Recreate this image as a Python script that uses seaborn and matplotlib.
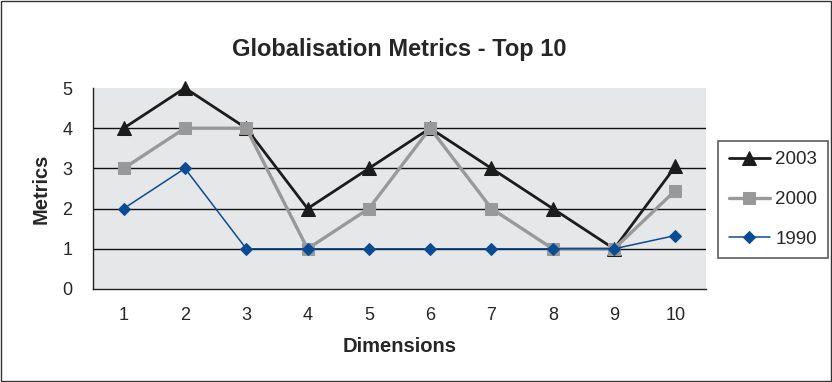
import pandas as pd
import matplotlib.pyplot as plt
import seaborn as sns
from matplotlib.patches import Rectangle

# Data
dimensions = [1, 2, 3, 4, 5, 6, 7, 8, 9, 10]
metrics_2003 = [4, 5, 4, 2, 3, 4, 3, 2, 1, 3.05]
metrics_2000 = [3, 4, 4, 1, 2, 4, 2, 1, 1, 2.45]
metrics_1990 = [2, 3, 1, 1, 1, 1, 1, 1, 1, 1.33]

series = [
    ("2003", metrics_2003, "#1c1c1c", "^", 2.0, 10),
    ("2000", metrics_2000, "#999999", "s", 2.4, 8),
    ("1990", metrics_1990, "#0a4c94", "D", 1.1, 6),
]

sns.set_style("white")
plt.rcParams["font.family"] = ["Liberation Sans", "DejaVu Sans"]

fig = plt.figure(figsize=(8.32, 3.82), dpi=100)
ax = fig.add_axes([0.1118, 0.2435, 0.7368, 0.5261])
ax.set_facecolor("#e6e7e9")

for name, vals, color, marker, lw, ms in series:
    df = pd.DataFrame({"Dimensions": dimensions, "Metrics": vals})
    sns.lineplot(data=df, x="Dimensions", y="Metrics", ax=ax, color=color,
                 marker=marker, markersize=ms, linewidth=lw,
                 markeredgecolor=color, label=name, clip_on=False)

ax.set_xlim(0.5, 10.5)
ax.set_ylim(0, 5)
ax.set_yticks(range(6))
for y in range(1, 5):
    ax.axhline(y, color="#111111", linewidth=1.0, zorder=0.5)

# category labels centered, tick marks between categories
ax.set_xticks(dimensions)
ax.set_xticks([x + 0.5 for x in range(0, 11)], minor=True)
ax.tick_params(axis="x", which="major", length=0, labelsize=13, pad=13)
ax.tick_params(axis="x", which="minor", length=6, width=1, color="#222222", direction="out")
ax.tick_params(axis="y", length=6, width=1, color="#222222", direction="out", labelsize=13, pad=9)

for side in ["top", "right"]:
    ax.spines[side].set_visible(False)
for side in ["left", "bottom"]:
    ax.spines[side].set_color("#222222")
    ax.spines[side].set_linewidth(1)

ax.set_xlabel("Dimensions", fontsize=14.5, fontweight="bold", labelpad=9)
ax.set_ylabel("Metrics", fontsize=14.5, fontweight="bold", labelpad=8)
ax.set_title("Globalisation Metrics - Top 10", fontsize=17, fontweight="bold", pad=23)

leg = ax.legend(loc="center left", bbox_to_anchor=(1.02, 0.445), frameon=True,
                fancybox=False, edgecolor="#333333", fontsize=13.5,
                handlelength=2.2, labelspacing=1.2, borderpad=0.55,
                handletextpad=0.3, borderaxespad=0)
leg.get_frame().set_linewidth(1.2)

fig.patches.append(Rectangle((0.001, 0.003), 0.998, 0.994, transform=fig.transFigure,
                             fill=False, edgecolor="#333333", linewidth=1))

fig.savefig("out.png", dpi=100)
